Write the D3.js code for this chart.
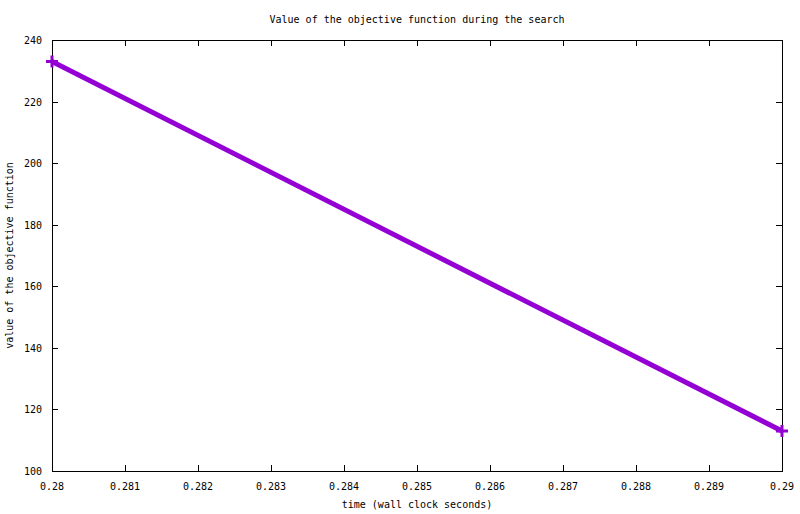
<!DOCTYPE html>
<html><head><meta charset="utf-8">
<script src="https://cdn.jsdelivr.net/npm/d3@7"></script>
<style>
body{margin:0;background:#fff;}
text{font-family:"DejaVu Sans Mono","Liberation Mono",monospace;font-size:10px;fill:#000;}
</style></head>
<body>
<svg id="c" width="800" height="514"></svg>
<script>
const times = [0.28, 0.29];
const values = [233, 113];
const xTicks = [0.28,0.281,0.282,0.283,0.284,0.285,0.286,0.287,0.288,0.289,0.29];
const yTicks = [100,120,140,160,180,200,220,240];
const xTickLabels = ["0.28","0.281","0.282","0.283","0.284","0.285","0.286","0.287","0.288","0.289","0.29"];

const svg = d3.select("#c");
const L=52, R=782, T=40, B=471;
const x = d3.scaleLinear().domain([0.28,0.29]).range([L,R]);
const y = d3.scaleLinear().domain([100,240]).range([B,T]);
const tl = 6;

const g = svg.append("g").attr("shape-rendering","crispEdges");
xTicks.forEach((t,i)=>{
  const px = Math.round(x(t))+0.5;
  g.append("line").attr("x1",px).attr("x2",px).attr("y1",B).attr("y2",B-tl).attr("stroke","#000");
  g.append("line").attr("x1",px).attr("x2",px).attr("y1",T).attr("y2",T+tl).attr("stroke","#000");
  svg.append("text").attr("x",x(t)).attr("y",B+19).attr("text-anchor","middle").text(xTickLabels[i]);
});
yTicks.forEach(t=>{
  const py = Math.round(y(t))+0.5;
  g.append("line").attr("x1",L).attr("x2",L+tl).attr("y1",py).attr("y2",py).attr("stroke","#000");
  g.append("line").attr("x1",R).attr("x2",R-tl).attr("y1",py).attr("y2",py).attr("stroke","#000");
  svg.append("text").attr("x",L-10).attr("y",y(t)+4).attr("text-anchor","end").text(t);
});
g.append("rect").attr("x",L+0.5).attr("y",T+0.5).attr("width",R-L).attr("height",B-T)
  .attr("fill","none").attr("stroke","#000");

const data = times.map((t,i)=>({t,v:values[i]}));
svg.append("path").datum(data)
  .attr("d", d3.line().x(d=>x(d.t)).y(d=>y(d.v)))
  .attr("stroke","#9400d3").attr("stroke-width",5).attr("fill","none");
data.forEach(d=>{
  const px=x(d.t), py=y(d.v);
  svg.append("path").attr("d",`M${px-6},${py}H${px+6}M${px},${py-6}V${py+6}`)
    .attr("stroke","#9400d3").attr("stroke-width",3);
});

svg.append("text").attr("x",(L+R)/2).attr("y",23).attr("text-anchor","middle")
  .text("Value of the objective function during the search");
svg.append("text").attr("x",(L+R)/2).attr("y",508).attr("text-anchor","middle")
  .text("time (wall clock seconds)");
svg.append("text").attr("transform",`translate(13,${(T+B)/2}) rotate(-90)`).attr("text-anchor","middle")
  .text("value of the objective function");
</script>
</body></html>
